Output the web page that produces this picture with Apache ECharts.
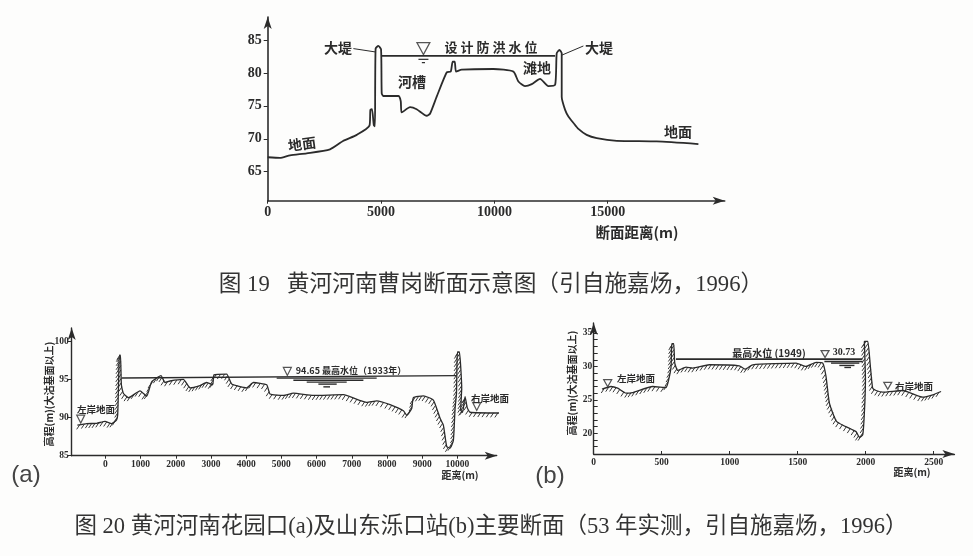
<!DOCTYPE html>
<html><head><meta charset="utf-8">
<style>html,body{margin:0;padding:0;background:#fdfdfc}#c{width:973px;height:556px}</style>
<script src="https://cdn.jsdelivr.net/npm/echarts@6/dist/echarts.min.js"></script>
</head><body><div id="c"></div>
<script>
// ---- Fig 19 (Caogang) ----
const groundTop = [[0,67.2],[540,67.1],[985,67.5],[1720,67.8],[2750,68.4],[3340,69.7],[3930,70.6],[4490,72],[4530,74.4],[4600,74.5],[4680,72.1],[4730,71.9],[4760,83.7],[4880,84.1],[5000,83.6],[5030,76.9],[5100,76.5],[5765,76.5],[5870,75.7],[5910,74],[6280,74.8],[6570,74.5],[7015,73.5],[7160,73.8],[7455,76.4],[7900,80.1],[8075,80.2],[8160,81.7],[8250,81.7],[8310,80.2],[8560,80.5],[9955,80.6],[10840,80.2],[11060,78.7],[11350,78],[11650,78.3],[12015,79.1],[12380,78],[12680,78.2],[12750,83],[12870,83.5],[12970,83],[12970,76.4],[13120,74.4],[13265,73.4],[13490,72.4],[13706,71.5],[14070,70.6],[14515,70.1],[15400,69.7],[17160,69.6],[19000,69.2]];
const waterTop = [[5000,82.6],[12680,82.6]];
const stripesTop = [[6650,7090,82.07],[6800,6940,81.57]];
const triTop = [[6868,83.7]];
const leadersTop = [[[3780,83.7],[4735,83.2]],[[12970,82.7],[13926,84.1]]];
const xTicksTop = [0,5000,10000,15000];
const yTicksTop = [65,70,75,80,85];
// ---- Fig 20a (Huayuankou) ----
const groundA = [[-795,89],[-530,89.2],[-246,89.25],[-10,89.5],[180,89.2],[320,89.7],[350,90.35],[370,93.4],[398,98.2],[430,98.2],[455,94.3],[511,93.2],[653,92.6],[985,93.5],[1174,92.8],[1316,94.7],[1581,95.5],[1695,94.6],[1837,94.8],[2216,95],[2405,93.9],[2689,94.2],[2879,94.6],[3049,94.3],[3087,95.6],[3447,95.7],[3589,94.4],[4015,93.9],[4205,94.6],[4583,94.3],[4678,93.1],[5057,92.9],[5341,93.2],[5909,92.9],[6761,93],[7424,92],[7708,92.2],[8087,91.7],[8466,90.9],[8561,90.3],[8703,91.2],[8750,92.6],[9034,92.85],[9318,92.3],[9508,89.9],[9602,89],[9697,86.2],[9792,86],[9886,87],[9934,91.2],[9975,93.2],[10000,98.6],[10057,98.6],[10123,93.9],[10095,91],[10150,90.7],[10218,92.76],[10280,91.3],[10360,90.7],[11210,90.6]];
const waterA = [[464,95.2],[9962,95.5]];
const stripesA = [[4867,7708,95.18],[5341,7330,94.9],[5720,6856,94.65],[6051,6572,94.39],[6193,6382,94.03]];
const triA = [[-700,89.8],[5170,96.05],[10550,91.45]];
const xTicksA = [0,1000,2000,3000,4000,5000,6000,7000,8000,9000,10000];
const yTicksA = [85,90,95,100];
// ---- Fig 20b (Luokou) ----
const groundB = [[61,26.6],[127,27],[176,26.75],[238,26],[287,26.1],[434,27],[532,26.85],[551,28],[569,30],[574,33.4],[588,33.4],[596,30.5],[618,29.4],[679,29.9],[728,29.75],[850,30.25],[1071,30.1],[1113,29.6],[1169,30.25],[1488,30.5],[1561,30],[1635,30.6],[1684,30.5],[1708,28.5],[1733,24.5],[1787,21.75],[1929,20.25],[1953,19.4],[1978,19.75],[1990,23],[1998,28],[1990,33.75],[2015,33.75],[2032,30.5],[2051,26.75],[2076,26.4],[2125,26.15],[2272,26.4],[2419,25.4],[2493,25.75],[2554,26.25]];
const waterB = [[605,31.1],[1975,31.1]];
const stripesB = [[1696,1978,30.75],[1745,1953,30.5],[1806,1917,30.15],[1843,1892,29.85]];
const triB = [[103,27.5],[1701,31.85],[2162,27.1]];
const xTicksB = [0,500,1000,1500,2000,2500];
const yLabelsB = [20,25,30,35];
const yTicksB = [18,19,20,21,22,23,24,25,26,27,28,29,30,31,32,33,34,35];

const INK = '#2b2b2b';
const NUM = '"Liberation Serif","Noto Sans CJK SC",serif';
const CJK = '"Noto Sans CJK SC",sans-serif';
const CAP = '"Liberation Serif","Noto Sans CJK SC",serif';

function axis(kind, gi, min, max, ticks, labels, fs, inside) {
  const yMargin = gi === 0 ? 6 : (gi === 1 ? 3 : 1.5);
  return {
    type: 'value', gridIndex: gi, min, max, splitLine: {show: false},
    axisLine: {onZero: false, symbol: ['none', 'arrow'], symbolSize: [6, 12],
      lineStyle: {color: INK, width: gi === 0 ? 1.6 : 1.4}},
    axisTick: {show: true, inside, length: kind === 'y' ? 4 : 3, customValues: ticks,
      lineStyle: {color: INK, width: 1}},
    axisLabel: {color: INK, fontFamily: NUM, fontWeight: 'bold', fontSize: fs,
      margin: kind === 'x' ? (gi === 0 ? 5 : 4) : yMargin, customValues: labels,
      formatter: v => String(v), showMinLabel: true, showMaxLabel: true},
    axisPointer: {show: false}
  };
}
function line(gi, data, width, smooth) {
  return {type: 'line', xAxisIndex: gi, yAxisIndex: gi, data, showSymbol: false, clip: false,
    smooth: smooth || 0, silent: true, lineStyle: {color: INK, width}, z: 3};
}
function tris(gi, data, size) {
  return {type: 'scatter', xAxisIndex: gi, yAxisIndex: gi, data, symbol: 'triangle', symbolRotate: 180,
    symbolSize: size, silent: true, clip: false, z: 6,
    itemStyle: {color: '#fdfdfc', borderColor: INK, borderWidth: 1.2}};
}
function hatch(gi, data) {
  return {
    type: 'custom', xAxisIndex: gi, yAxisIndex: gi, data, clip: false, silent: true, z: 2,
    encode: {x: 0, y: 1},
    renderItem(params, api) {
      const i = params.dataIndex;
      if (i >= data.length - 1) return {type: 'group', children: []};
      const a = api.coord(data[i]), b = api.coord(data[i + 1]);
      const len = Math.hypot(b[0] - a[0], b[1] - a[1]);
      const step = 4, n = Math.max(1, Math.round(len / step));
      const children = [];
      for (let k = 0; k < n; k++) {
        const t = (k + 0.5) / n;
        const x = a[0] + (b[0] - a[0]) * t, y = a[1] + (b[1] - a[1]) * t;
        children.push({type: 'line', shape: {x1: x, y1: y, x2: x - 3, y2: y + 4.5},
          style: {stroke: '#3a3a3a', lineWidth: 1}});
      }
      return {type: 'group', children};
    }
  };
}
function text(t, x, y, size, opt) {
  opt = opt || {};
  return {type: 'text', x, y, rotation: opt.rot || 0, silent: true, z: 20,
    style: {text: t, fill: opt.fill || INK, fontFamily: opt.font || CJK, fontSize: size,
      fontWeight: opt.weight || 'bold', align: 'center', verticalAlign: 'middle'}};
}

const series = [
  line(0, groundTop, 1.8, 0.2), line(0, waterTop, 1.6), tris(0, triTop, [13, 12]),
  ...leadersTop.map(d => line(0, d, 1)),
  ...stripesTop.map(s => line(0, [[s[0], s[2]], [s[1], s[2]]], 1.2)),

  hatch(1, groundA), line(1, groundA, 1.3, 0.15), line(1, waterA, 1.4), tris(1, triA, [8, 8]),
  ...stripesA.map(s => line(1, [[s[0], s[2]], [s[1], s[2]]], 1.4)),

  hatch(2, groundB), line(2, groundB, 1.3, 0.15), line(2, waterB, 1.6), tris(2, triB, [8, 7]),
  ...stripesB.map(s => line(2, [[s[0], s[2]], [s[1], s[2]]], 1.4))
];

const chart = echarts.init(document.getElementById('c'), null, {renderer: 'canvas'});
chart.setOption({
  animation: false, backgroundColor: '#fdfdfc',
  grid: [
    {left: 267.7, top: 17, width: 457, height: 183.7},
    {left: 71.7, top: 328, width: 425, height: 127.7},
    {left: 593.7, top: 323, width: 360.7, height: 131}
  ],
  xAxis: [
    axis('x', 0, 0, 20160, xTicksTop, xTicksTop, 14, false),
    axis('x', 1, -956, 11117, xTicksA, xTicksA, 9.5, false),
    axis('x', 2, 0, 2652, xTicksB, xTicksB, 9.5, true)
  ],
  yAxis: [
    axis('y', 0, 60.6, 88.5, yTicksTop, yTicksTop, 14, false),
    axis('y', 1, 85, 101.75, yTicksA, yTicksA, 9.5, false),
    axis('y', 2, 16.9, 36.5, yTicksB, yLabelsB, 9.5, true)
  ],
  series,
  graphic: [
    text('大堤', 338, 48, 14), text('大堤', 599, 48, 14),
    text('设 计 防 洪 水 位', 491, 47, 13), text('河槽', 412, 82, 14), text('滩地', 537, 68, 14),
    text('地面', 302, 144, 14, {rot: 0.13}), text('地面', 678, 132, 14),
    text('断面距离(m)', 637, 232, 14.5),
    text('图 19   黄河河南曹岗断面示意图（引自施嘉炀，1996）', 491, 285, 22.7, {font: CAP, weight: 'normal', fill: '#333'}),

    text('左岸地面', 96, 409, 9.5), text('94.65 最高水位（1933年）', 351, 371, 9), text('右岸地面', 490, 398, 9.5),
    text('高程(m)(大沽基面以上)', 49, 394, 10, {rot: Math.PI / 2}), text('距离(m)', 460, 475, 10),
    text('(a)', 26, 475, 24, {font: '"Liberation Sans",sans-serif', weight: 'normal', fill: '#444'}),

    text('左岸地面', 636, 378, 9.5), text('最高水位 (1949)', 769, 353, 10), text('30.73', 844, 352, 10, {font: NUM}),
    text('右岸地面', 914, 386, 9.5), text('高程(m)(大沽基面以上)', 572, 383, 10, {rot: Math.PI / 2}), text('距离(m)', 912, 472, 10),
    text('(b)', 550, 476, 24, {font: '"Liberation Sans",sans-serif', weight: 'normal', fill: '#444'}),

    text('图 20 黄河河南花园口(a)及山东泺口站(b)主要断面（53 年实测，引自施嘉炀，1996）', 491, 527, 22.5, {font: CAP, weight: 'normal', fill: '#333'})
  ]
});
</script></body></html>
